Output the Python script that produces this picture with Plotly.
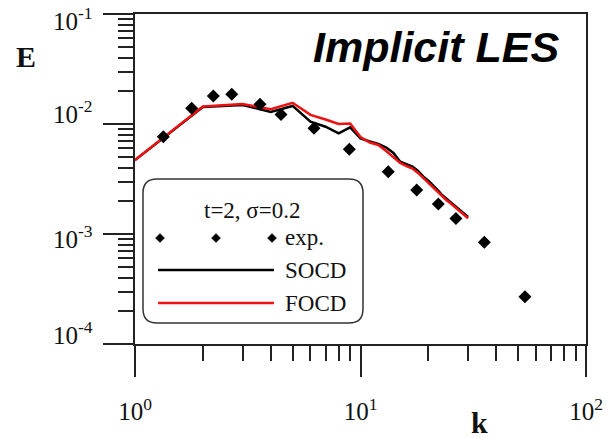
import math
import plotly.graph_objects as go

# ---------------- data ----------------
k_sim = list(range(1, 31))
E_socd = [4.71e-3, 1.43e-2, 1.49e-2, 1.29e-2, 1.46e-2, 1.05e-2, 9.45e-3, 8.22e-3, 9.33e-3, 7.41e-3,
          6.93e-3, 6.58e-3, 6.11e-3, 5.45e-3, 4.54e-3, 4.33e-3, 4.09e-3, 3.74e-3, 3.32e-3, 3.06e-3,
          2.79e-3, 2.51e-3, 2.26e-3, 2.10e-3, 1.97e-3, 1.84e-3, 1.72e-3, 1.62e-3, 1.53e-3, 1.43e-3]
E_focd = [4.71e-3, 1.44e-2, 1.52e-2, 1.36e-2, 1.56e-2, 1.21e-2, 1.10e-2, 1.00e-2, 1.01e-2, 7.62e-3,
          6.79e-3, 6.45e-3, 5.69e-3, 5.01e-3, 4.42e-3, 4.15e-3, 3.94e-3, 3.59e-3, 3.23e-3, 2.91e-3,
          2.62e-3, 2.38e-3, 2.19e-3, 2.04e-3, 1.91e-3, 1.78e-3, 1.67e-3, 1.57e-3, 1.47e-3, 1.39e-3]
k_exp = [1.335, 1.784, 2.225, 2.685, 3.584, 4.44, 6.22, 8.92, 13.28, 17.75, 22.13, 26.5, 35.4, 53.6]
E_exp = [7.67e-3, 1.39e-2, 1.80e-2, 1.86e-2, 1.51e-2, 1.22e-2, 9.14e-3, 5.89e-3, 3.68e-3, 2.51e-3,
         1.87e-3, 1.38e-3, 8.41e-4, 2.69e-4]

x_tickvals = [1, 10, 100]
x_ticktext = ["10<sup>0</sup>", "10<sup>1</sup>", "10<sup>2</sup>"]
y_tickvals = [1e-4, 1e-3, 1e-2, 1e-1]
y_ticktext = ["10<sup>-4</sup>", "10<sup>-3</sup>", "10<sup>-2</sup>", "10<sup>-1</sup>"]
x_minor = [m * d for d in (1, 10) for m in range(2, 10)]
y_minor = [m * d for d in (1e-4, 1e-3, 1e-2) for m in range(2, 10)]

legend_title = "t=2, σ=0.2"
legend_labels = ["exp.", "SOCD", "FOCD"]
plot_title = "Implicit LES"

# ---------------- layout helpers (pixel -> paper) ----------------
W, H = 607, 438
L_, R_, T_, B_ = 135, 586, 14, 344


def fx(px):
    return (px - L_) / (R_ - L_)


def fy(py):
    return (B_ - py) / (B_ - T_)


SERIF = "Liberation Serif, Times New Roman, serif"
AXC = "#222222"

fig = go.Figure()
fig.add_trace(go.Scatter(x=k_sim, y=E_socd, mode="lines", line=dict(color="black", width=2.5),
                         name="SOCD", showlegend=False))
fig.add_trace(go.Scatter(x=k_sim, y=E_focd, mode="lines", line=dict(color="#ee1111", width=2.5),
                         name="FOCD", showlegend=False))
fig.add_trace(go.Scatter(x=k_exp, y=E_exp, mode="markers",
                         marker=dict(symbol="diamond", size=10, color="black"),
                         name="exp.", showlegend=False))

axis_common = dict(showgrid=False, zeroline=False, showline=True, linecolor=AXC, linewidth=2,
                   mirror=True, ticks="outside", tickcolor=AXC, tickwidth=2,
                   ticklabeloverflow="allow", automargin=False,
                   tickfont=dict(family=SERIF, size=25, color="#111"))

fig.update_xaxes(type="log", range=[0, 2], tickmode="array", tickvals=x_tickvals,
                 ticktext=x_ticktext, ticklen=31, ticklabelstandoff=13,
                 minor=dict(tickmode="array", tickvals=x_minor, ticks="outside", ticklen=15,
                            tickwidth=2, tickcolor=AXC),
                 **axis_common)
# y tick labels are drawn as annotations below (the scanned original places them irregularly)
fig.update_yaxes(type="log", range=[-4, -1], tickmode="array", tickvals=y_tickvals,
                 ticktext=y_ticktext, ticklen=30, showticklabels=False,
                 minor=dict(tickmode="array", tickvals=y_minor, ticks="outside", ticklen=15,
                            tickwidth=2, tickcolor=AXC),
                 **axis_common)

# ---------------- legend box (manual) ----------------
bl, bt, br, bb, r = 143, 179, 363, 323, 14
path = (f"M {fx(bl + r)},{fy(bt)} L {fx(br - r)},{fy(bt)} Q {fx(br)},{fy(bt)} {fx(br)},{fy(bt + r)} "
        f"L {fx(br)},{fy(bb - r)} Q {fx(br)},{fy(bb)} {fx(br - r)},{fy(bb)} "
        f"L {fx(bl + r)},{fy(bb)} Q {fx(bl)},{fy(bb)} {fx(bl)},{fy(bb - r)} "
        f"L {fx(bl)},{fy(bt + r)} Q {fx(bl)},{fy(bt)} {fx(bl + r)},{fy(bt)} Z")
shapes = [dict(type="path", xref="paper", yref="paper", path=path,
               line=dict(color="#333", width=1.5), fillcolor="white", layer="above")]

# legend symbols
for cx in (160, 216, 272):
    cy, h = 238, 4.5
    p = (f"M {fx(cx)},{fy(cy - h)} L {fx(cx + h)},{fy(cy)} L {fx(cx)},{fy(cy + h)} "
         f"L {fx(cx - h)},{fy(cy)} Z")
    shapes.append(dict(type="path", xref="paper", yref="paper", path=p,
                       line=dict(color="black", width=0.5), fillcolor="black", layer="above"))
for yy, col in ((270, "black"), (303, "#ee1111")):
    shapes.append(dict(type="line", xref="paper", yref="paper", x0=fx(158), x1=fx(274),
                       y0=fy(yy), y1=fy(yy), line=dict(color=col, width=2.5), layer="above"))

annotations = [
    dict(text=legend_title, x=fx(252), y=fy(210), xref="paper", yref="paper", showarrow=False,
         xanchor="center", yanchor="middle", font=dict(family=SERIF, size=23, color="#111")),
]
for lab, yy in zip(legend_labels, (238, 270, 303)):
    annotations.append(dict(text=lab, x=fx(283), y=fy(yy), xref="paper", yref="paper",
                            showarrow=False, xanchor="left", yanchor="middle",
                            font=dict(family=SERIF, size=23, color="#111")))

# y tick labels
y_label_shift = [11, -3, 12, -5]
for val, txt, ys in zip(y_tickvals, y_ticktext, y_label_shift):
    annotations.append(dict(text=txt, x=fx(95), y=math.log10(val), xref="paper", yref="y",
                            showarrow=False, xanchor="right", yanchor="middle", yshift=ys,
                            font=dict(family=SERIF, size=25, color="#111")))

annotations += [
    dict(text="<b><i>" + plot_title + "</i></b>", x=fx(436), y=fy(47), xref="paper", yref="paper",
         showarrow=False, xanchor="center", yanchor="middle",
         font=dict(family="Liberation Sans, Arial, sans-serif", size=43, color="black")),
    dict(text="<b>E</b>", x=fx(26), y=fy(57), xref="paper", yref="paper", showarrow=False,
         xanchor="center", yanchor="middle", font=dict(family=SERIF, size=30, color="#111")),
    dict(text="<b>k</b>", x=fx(479), y=fy(423), xref="paper", yref="paper", showarrow=False,
         xanchor="center", yanchor="middle", font=dict(family=SERIF, size=30, color="#111")),
]

fig.update_layout(width=W, height=H, margin=dict(l=L_, r=W - R_, t=T_, b=H - B_),
                  paper_bgcolor="white", plot_bgcolor="white", shapes=shapes,
                  annotations=annotations, showlegend=False)

fig.write_html("out.html")
